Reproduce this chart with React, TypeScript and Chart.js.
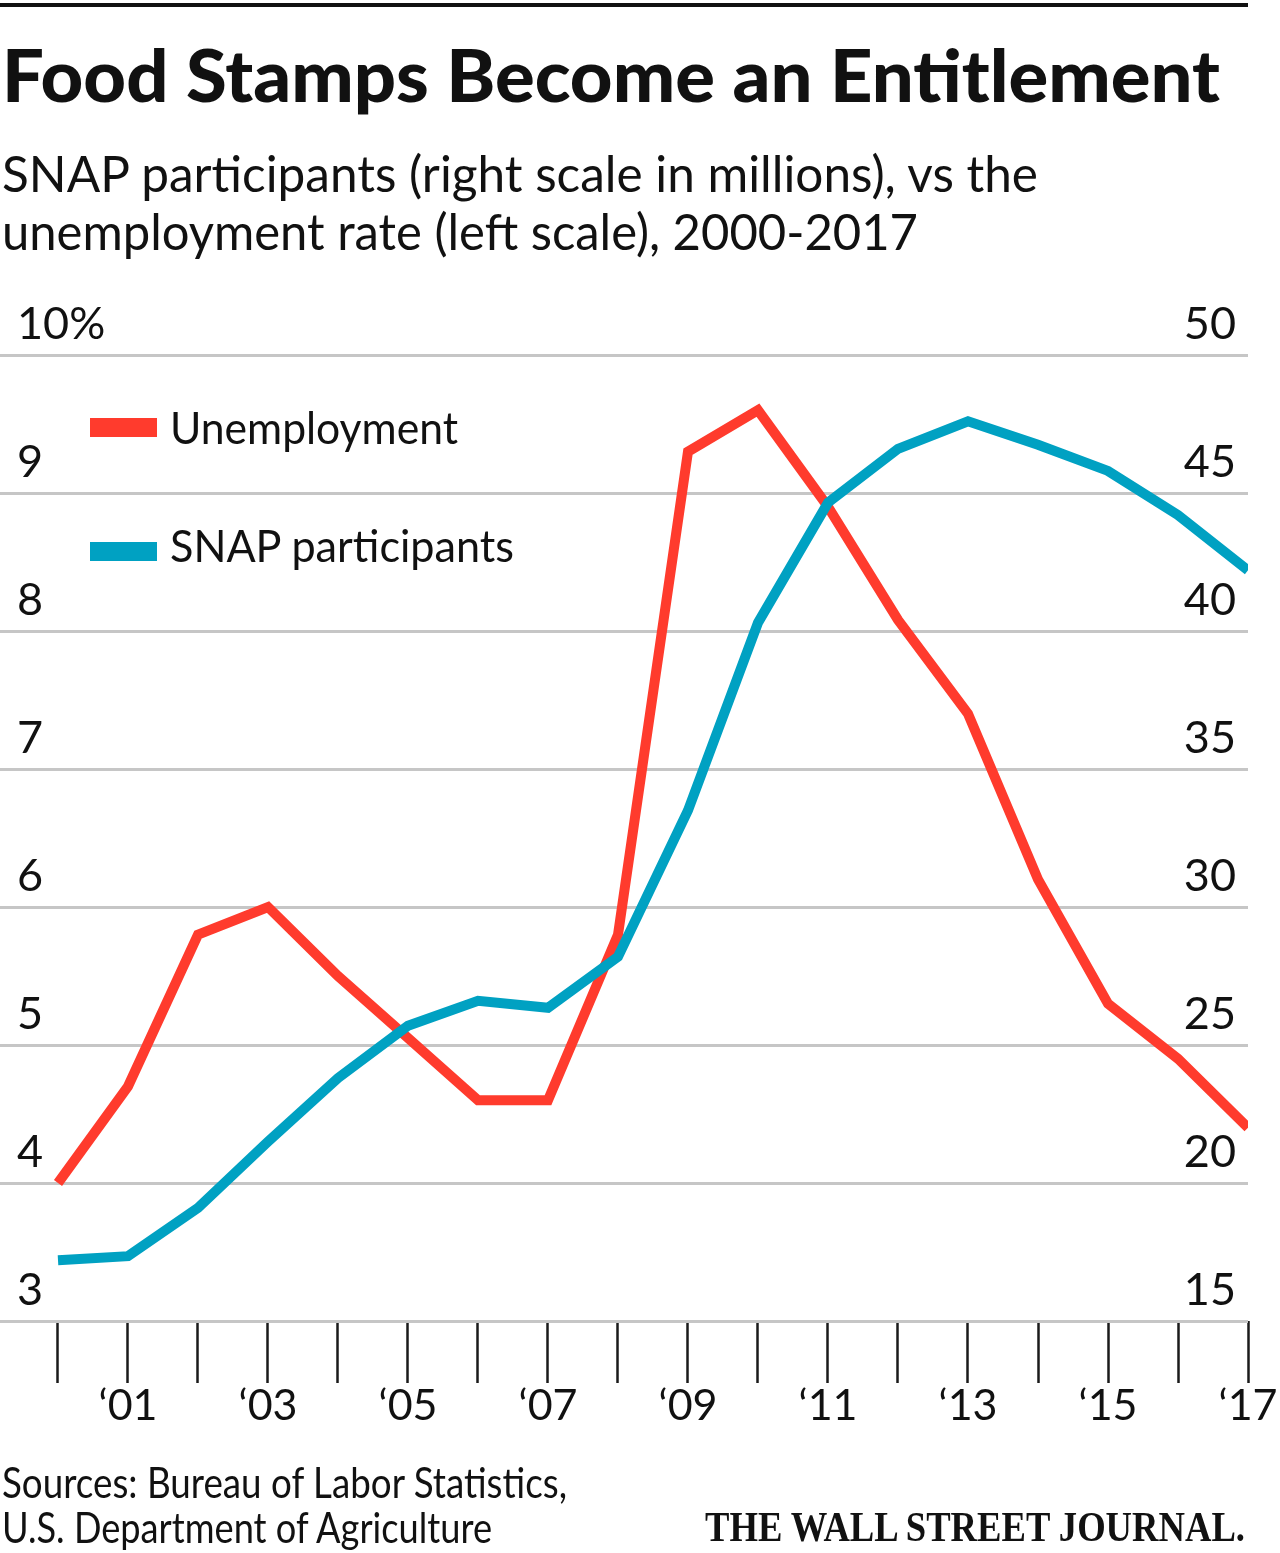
import React, { useEffect, useRef } from "react";
import { Chart, registerables } from "chart.js";

Chart.register(...registerables);

// ---- data ----
const years = [2000, 2001, 2002, 2003, 2004, 2005, 2006, 2007, 2008, 2009, 2010, 2011, 2012, 2013, 2014, 2015, 2016, 2017];
const unemployment = [4.0, 4.7, 5.8, 6.0, 5.5, 5.05, 4.6, 4.6, 5.8, 9.3, 9.6, 8.9, 8.08, 7.4, 6.2, 5.3, 4.9, 4.4];
const snapParticipants = [17.2, 17.35, 19.1, 21.5, 23.8, 25.7, 26.6, 26.35, 28.2, 33.5, 40.3, 44.65, 46.6, 47.6, 46.75, 45.8, 44.2, 42.2];
const leftTicks = [3, 4, 5, 6, 7, 8, 9, 10];
const rightTicks = [15, 20, 25, 30, 35, 40, 45, 50];

const RED = "#ff3b2d";
const BLUE = "#00a1c2";
const GRID = "#c6c6c6";
const INK = "#111111";
const SANS = "Lato, 'Noto Sans', sans-serif";

export default function App() {
  const canvasRef = useRef<HTMLCanvasElement>(null);

  useEffect(() => {
    document.body.style.margin = "0";
    const canvas = canvasRef.current!;
    const tickFont = { family: SANS, size: 45 };
    const chart = new Chart(canvas, {
      type: "line",
      data: {
        datasets: [
          {
            label: "SNAP participants",
            data: years.map((y, i) => ({ x: y, y: snapParticipants[i] })),
            yAxisID: "yR",
            borderColor: BLUE,
            backgroundColor: BLUE,
            borderWidth: 10,
            pointRadius: 0,
            tension: 0,
            fill: false,
            order: 0,
          },
          {
            label: "Unemployment",
            data: years.map((y, i) => ({ x: y, y: unemployment[i] })),
            yAxisID: "yL",
            borderColor: RED,
            backgroundColor: RED,
            borderWidth: 10,
            pointRadius: 0,
            tension: 0,
            fill: false,
            order: 1,
          },
        ],
      },
      options: {
        responsive: false,
        animation: false,
        devicePixelRatio: 1,
        layout: { padding: { top: 355, left: 0, right: 32, bottom: 132 } },
        plugins: { legend: { display: false }, tooltip: { enabled: false } },
        scales: {
          x: {
            type: "linear",
            min: years[0] - 58 / 70,
            max: years[years.length - 1],
            ticks: {
              stepSize: 1,
              includeBounds: false,
              autoSkip: false,
              maxRotation: 0,
              minRotation: 0,
              padding: -3,
              color: INK,
              font: { family: SANS, size: 43 },
              callback: (v: any) => {
                const n = Math.round(Number(v));
                return n % 2 === 1 ? "\u2018" + String(n % 100).padStart(2, "0") : "";
              },
            },
            grid: {
              display: true,
              drawOnChartArea: false,
              drawTicks: true,
              tickLength: 62,
              tickWidth: 2.5,
              tickColor: "#1a1a1a",
            },
            border: { display: false },
            afterFit: (s: any) => {
              s.height = 100;
            },
          },
          yL: {
            type: "linear",
            position: "left",
            min: leftTicks[0],
            max: leftTicks[leftTicks.length - 1],
            afterBuildTicks: (s: any) => {
              s.ticks = leftTicks.map((v) => ({ value: v }));
            },
            ticks: {
              mirror: true,
              padding: 17,
              labelOffset: -31,
              color: INK,
              font: tickFont,
              callback: (v: any) => (Number(v) === 10 ? "10%" : String(v)),
            },
            grid: { color: GRID, lineWidth: 3, drawTicks: false },
            border: { display: false },
            afterFit: (s: any) => {
              s.width = 0;
            },
          },
          yR: {
            type: "linear",
            position: "right",
            min: rightTicks[0],
            max: rightTicks[rightTicks.length - 1],
            afterBuildTicks: (s: any) => {
              s.ticks = rightTicks.map((v) => ({ value: v }));
            },
            ticks: {
              mirror: true,
              padding: -12,
              labelOffset: -31,
              color: INK,
              font: tickFont,
              callback: (v: any) => String(v),
            },
            grid: { display: false, drawTicks: false },
            border: { display: false },
            afterFit: (s: any) => {
              s.width = 0;
            },
          },
        },
      },
    } as any);
    return () => chart.destroy();
  }, []);

  return (
    <div style={{ position: "absolute", left: 0, top: 0, width: 1280, height: 1553, background: "#fff" }}>
      <canvas ref={canvasRef} width={1280} height={1553} style={{ position: "absolute", left: 0, top: 0, width: 1280, height: 1553 }} />
      <svg width={1280} height={1553} style={{ position: "absolute", left: 0, top: 0, pointerEvents: "none" }}>
        <rect x={0} y={3} width={1248} height={4} fill={INK} />
        <text x={2} y={102} fontFamily={SANS} fontWeight={900} fontSize={72} fill={INK} textLength={1218} lengthAdjust="spacingAndGlyphs">
          Food Stamps Become an Entitlement
        </text>
        <text x={2} y={192} fontFamily={SANS} fontSize={50} fill={INK} textLength={1036} lengthAdjust="spacingAndGlyphs">
          SNAP participants (right scale in millions), vs the
        </text>
        <text x={2} y={250} fontFamily={SANS} fontSize={50} fill={INK} textLength={916} lengthAdjust="spacingAndGlyphs">
          unemployment rate (left scale), 2000-2017
        </text>
        <rect x={90} y={418} width={67} height={19} fill={RED} />
        <text x={170} y={444} fontFamily={SANS} fontSize={45} fill={INK} textLength={288} lengthAdjust="spacingAndGlyphs">
          Unemployment
        </text>
        <rect x={90} y={542} width={67} height={19} fill={BLUE} />
        <text x={170} y={562} fontFamily={SANS} fontSize={45} fill={INK} textLength={344} lengthAdjust="spacingAndGlyphs">
          SNAP participants
        </text>
        <text x={2} y={1498} fontFamily={SANS} fontSize={42} fill={INK} textLength={565} lengthAdjust="spacingAndGlyphs">
          Sources: Bureau of Labor Statistics,
        </text>
        <text x={2} y={1543} fontFamily={SANS} fontSize={42} fill={INK} textLength={490} lengthAdjust="spacingAndGlyphs">
          U.S. Department of Agriculture
        </text>
        <text x={705} y={1541} fontFamily="'Liberation Serif', 'DejaVu Serif', serif" fontWeight={700} fontSize={42} fill={INK} textLength={540} lengthAdjust="spacingAndGlyphs">
          THE WALL STREET JOURNAL.
        </text>
      </svg>
    </div>
  );
}
